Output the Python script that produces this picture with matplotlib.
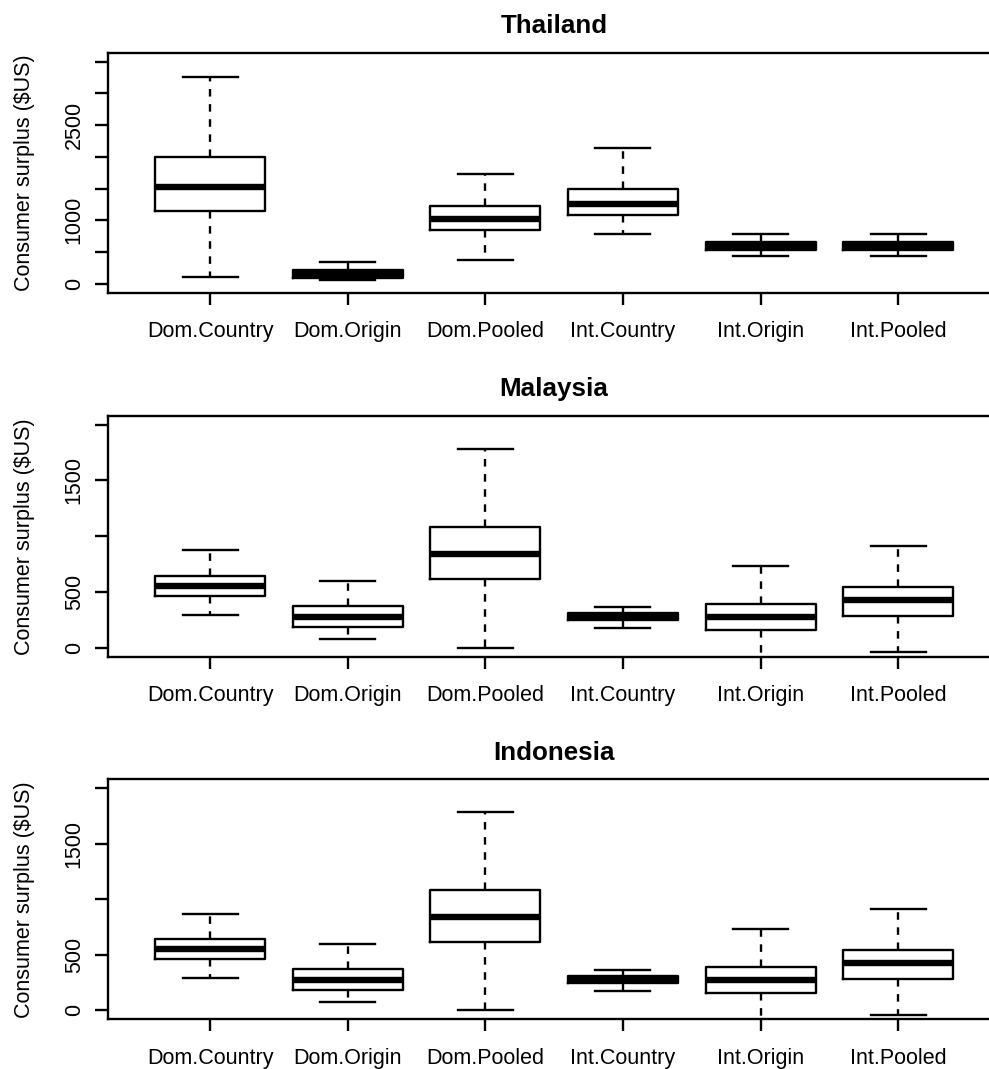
import matplotlib
matplotlib.use('Agg')
import matplotlib.pyplot as plt

plt.rcParams['font.family'] = ['Liberation Sans', 'DejaVu Sans']

labels = ['Dom.Country', 'Dom.Origin', 'Dom.Pooled', 'Int.Country', 'Int.Origin', 'Int.Pooled']

# Thailand
thai_whislo = [103, 67, 381, 783, 443, 443]
thai_q1 = [1154, 94, 840, 1086, 527, 527]
thai_med = [1530, 150, 1023, 1258, 595, 595]
thai_q3 = [2000, 224, 1227, 1499, 658, 658]
thai_whishi = [3265, 345, 1729, 2141, 783, 783]

# Malaysia
mal_whislo = [290, 78, 0, 174, -150, -38]
mal_q1 = [460, 188, 618, 248, 155, 287]
mal_med = [552, 272, 842, 281, 272, 424]
mal_q3 = [642, 370, 1087, 313, 391, 541]
mal_whishi = [872, 597, 1782, 367, 737, 910]

# Indonesia
ind_whislo = [290, 78, 0, 174, -150, -38]
ind_q1 = [460, 188, 618, 248, 155, 287]
ind_med = [552, 272, 842, 281, 272, 424]
ind_q3 = [642, 370, 1087, 313, 391, 541]
ind_whishi = [872, 597, 1782, 367, 737, 910]

thai_ticks = [0, 500, 1000, 1500, 2000, 2500, 3000, 3500]
thai_ticklabels = ['0', '', '1000', '', '', '2500', '', '']
sea_ticks = [0, 500, 1000, 1500, 2000]
sea_ticklabels = ['0', '500', '', '1500', '']

panels = [
    ('Thailand', thai_whislo, thai_q1, thai_med, thai_q3, thai_whishi,
     (0, 3500), thai_ticks, thai_ticklabels),
    ('Malaysia', mal_whislo, mal_q1, mal_med, mal_q3, mal_whishi,
     (0, 2000), sea_ticks, sea_ticklabels),
    ('Indonesia', ind_whislo, ind_q1, ind_med, ind_q3, ind_whishi,
     (0, 2000), sea_ticks, sea_ticklabels),
]

# axes rectangles in figure fraction (right edge runs past the figure, as in the source)
rects = [
    [0.1095, 0.7262, 0.9016, 0.2245],
    [0.1095, 0.3857, 0.9016, 0.2254],
    [0.1095, 0.0465, 0.9016, 0.2245],
]

fig = plt.figure(figsize=(9.89, 10.69), dpi=100)
fs = 15.5
lw = 1.7

for rect, (title, lo, q1, med, q3, hi, yr, ticks, ticklabels) in zip(rects, panels):
    ax = fig.add_axes(rect)
    stats = []
    for i in range(len(labels)):
        stats.append({'label': labels[i], 'whislo': lo[i], 'q1': q1[i], 'med': med[i],
                      'q3': q3[i], 'whishi': hi[i], 'fliers': []})
    ax.bxp(stats, positions=range(1, 7), widths=0.8, showfliers=False,
           boxprops=dict(color='black', linewidth=lw),
           whiskerprops=dict(color='black', linewidth=lw, linestyle=(0, (3.2, 3.2))),
           capprops=dict(color='black', linewidth=lw),
           medianprops=dict(color='black', linewidth=4.6, solid_capstyle='butt'))
    ext = 0.04 * (yr[1] - yr[0])
    ax.set_ylim(yr[0] - ext, yr[1] + ext)
    ax.set_xlim(0.26, 6.74)
    ax.set_yticks(ticks)
    ax.set_yticklabels(ticklabels)
    ax.tick_params(axis='y', labelrotation=90, length=9.4, width=lw, pad=7.5, labelsize=fs)
    ax.tick_params(axis='x', length=8.6, width=lw, pad=12, labelsize=fs)
    for lab in ax.get_yticklabels():
        lab.set_va('center')
    for sp in ax.spines.values():
        sp.set_linewidth(lw)
    ax.set_ylabel('Consumer surplus ($US)', fontsize=fs)
    ax.yaxis.set_label_coords(-0.0822, 0.5)
    ax.set_title(title, fontsize=18.7, fontweight='bold', pad=14)

fig.savefig('out.png', dpi=100, facecolor='white')
